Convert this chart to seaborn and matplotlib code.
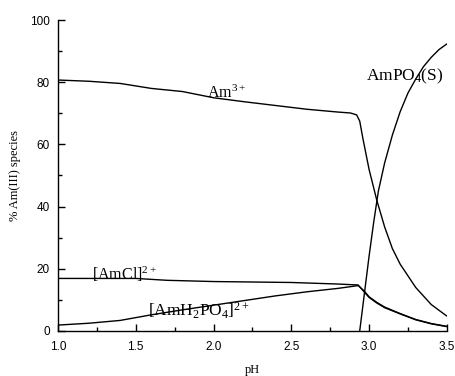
import pandas as pd
import numpy as np
import matplotlib
matplotlib.use("Agg")
import matplotlib.pyplot as plt
import seaborn as sns
from matplotlib.ticker import MultipleLocator, FormatStrFormatter

# Am(III) speciation vs pH
ph_am = [1.0, 1.2, 1.4, 1.6, 1.8, 2.0, 2.2, 2.4, 2.6, 2.8, 2.88, 2.92, 2.94,
         2.96, 3.0, 3.05, 3.1, 3.15, 3.2, 3.3, 3.4, 3.5]
am3 = [80.7, 80.3, 79.6, 78.0, 77.0, 75.0, 73.7, 72.5, 71.3, 70.4, 70.1, 69.5,
       67.5, 62.0, 52.0, 42.0, 33.5, 26.5, 21.5, 14.0, 8.5, 4.8]

ph_po4 = [2.94, 2.97, 3.0, 3.03, 3.06, 3.1, 3.15, 3.2, 3.25, 3.3, 3.35, 3.4, 3.45, 3.5]
ampo4 = [0.0, 12.0, 24.0, 35.0, 45.0, 54.0, 63.0, 70.5, 76.5, 81.0, 85.0, 88.0, 90.5, 92.3]

ph_cl = [1.0, 1.5, 1.7, 2.0, 2.5, 2.8, 2.93, 2.97, 3.0, 3.05, 3.1, 3.2, 3.3, 3.4, 3.5]
amcl = [16.9, 16.9, 16.3, 15.9, 15.6, 15.1, 14.8, 12.5, 10.8, 9.0, 7.5, 5.5, 3.6, 2.3, 1.4]

ph_h2po4 = [1.0, 1.2, 1.4, 1.6, 1.8, 2.0, 2.2, 2.4, 2.6, 2.8, 2.93, 2.97, 3.0,
            3.05, 3.1, 3.2, 3.3, 3.4, 3.5]
amh2po4 = [1.9, 2.5, 3.4, 5.2, 6.8, 8.3, 9.8, 11.3, 12.6, 13.7, 14.6, 12.8, 11.0,
           9.2, 7.7, 5.6, 3.7, 2.4, 1.5]

series = [
    ("Am3+", ph_am, am3),
    ("AmPO4(S)", ph_po4, ampo4),
    ("AmCl2+", ph_cl, amcl),
    ("AmH2PO4 2+", ph_h2po4, amh2po4),
]
df = pd.concat([pd.DataFrame({"pH": x, "pct": y, "species": name})
                for name, x, y in series], ignore_index=True)

sns.set_theme(style="ticks")
plt.rcParams["font.family"] = ["Liberation Sans", "DejaVu Sans"]
plt.rcParams["mathtext.fontset"] = "custom"
plt.rcParams["mathtext.rm"] = "Liberation Serif"
plt.rcParams["mathtext.it"] = "Liberation Serif:italic"

fig = plt.figure(figsize=(4.55, 3.76), dpi=100)
ax = fig.add_axes([0.1275, 0.1197, 0.8545, 0.8271])

for name, _, _ in series:
    sub = df[df["species"] == name]
    sns.lineplot(data=sub, x="pH", y="pct", sort=False, color="black",
                 linewidth=1.0, ax=ax, legend=False)

ax.set_xlim(1.0, 3.5)
ax.set_ylim(0, 100)
ax.xaxis.set_major_locator(MultipleLocator(0.5))
ax.xaxis.set_minor_locator(MultipleLocator(0.25))
ax.xaxis.set_major_formatter(FormatStrFormatter("%.1f"))
ax.yaxis.set_major_locator(MultipleLocator(20))
ax.yaxis.set_minor_locator(MultipleLocator(10))
ax.tick_params(which="both", direction="in", color="black", width=1.0,
               labelsize=8.5, labelcolor="black")
ax.tick_params(which="major", length=5)
ax.tick_params(which="minor", length=3)
ax.tick_params(axis="x", which="major", pad=7)
ax.tick_params(axis="y", which="major", pad=6)
sns.despine(ax=ax)
for sp in ("left", "bottom"):
    ax.spines[sp].set_color("black")
    ax.spines[sp].set_linewidth(1.0)

serif = dict(family="Liberation Serif", color="black")
ax.set_xlabel("pH", fontdict=dict(serif, size=9), labelpad=8)
ax.set_ylabel("% Am(III) species", fontdict=dict(serif, size=9), labelpad=6)

ax.text(1.955, 75.0, r"Am$^{3+}$", fontsize=11.5, **serif)
ax.text(2.98, 80.5, r"AmPO$_4$(S)", fontsize=12.5, **serif)
ax.text(1.22, 16.4, r"[AmCl]$^{2+}$", fontsize=11.5, **serif)
ax.text(1.58, 4.8, r"[AmH$_2$PO$_4$]$^{2+}$", fontsize=12.5, **serif)

fig.savefig("out.png", dpi=100)
